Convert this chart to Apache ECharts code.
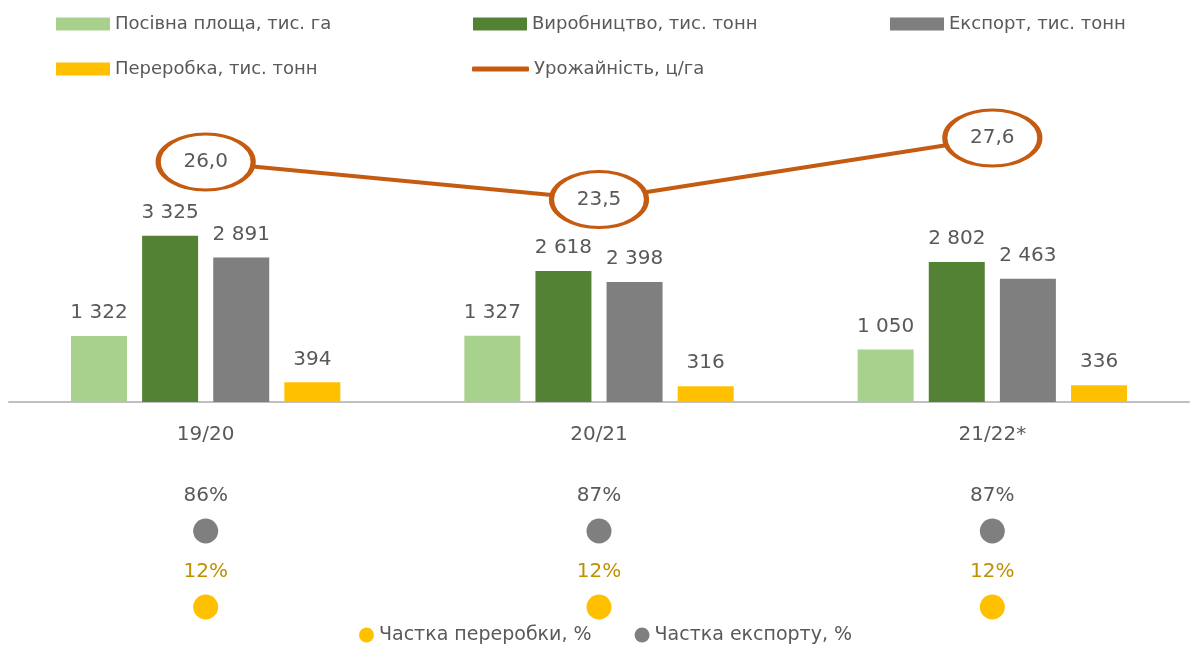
<!DOCTYPE html>
<html>
<head>
<meta charset="utf-8">
<script src="https://cdn.jsdelivr.net/npm/echarts@6/dist/echarts.min.js"></script>
<style>
  html, body { margin: 0; padding: 0; background: #fff; }
  #chart { width: 1190px; height: 648px; }
</style>
</head>
<body>
<div id="chart"></div>
<script>
// дані з графіка
const seasons = ['19/20', '20/21', '21/22*'];
const sownArea = [1322, 1327, 1050];      // тис. га
const production = [3325, 2618, 2802];    // тис. тонн
const exportVol = [2891, 2398, 2463];     // тис. тонн
const processing = [394, 316, 336];       // тис. тонн
const yieldVal = [26.0, 23.5, 27.6];      // ц/га
const exportShare = [86, 87, 87];         // %
const processingShare = [12, 12, 12];     // %
const shareRows = ['Частка переробки, %', 'Частка експорту, %'];

const FONT = 'DejaVu Sans';
const TEXT = '#595959';
const ORANGE = '#C55A11';

// "3325" -> "3 325"
const fmtThousands = (v) => String(v).replace(/\B(?=(\d{3})+(?!\d))/g, ' ');

const barLabel = {
  show: true,
  position: 'top',
  distance: 13,
  color: TEXT,
  fontFamily: FONT,
  fontSize: 20,
  formatter: (p) => fmtThousands(p.value),
};

function barSeries(name, data, color) {
  return {
    name: name,
    type: 'bar',
    data: data,
    barWidth: 56,
    barGap: '27%',
    itemStyle: { color: color },
    label: barLabel,
  };
}

const legendText = { color: TEXT, fontFamily: FONT, fontSize: 18, lineHeight: 20 };

const chart = echarts.init(document.getElementById('chart'));
chart.setOption({
  animation: false,
  backgroundColor: '#fff',
  textStyle: { fontFamily: FONT },
  legend: [
    {
      orient: 'vertical', left: 56, top: 14, itemGap: 25, padding: 0,
      itemWidth: 54, itemHeight: 13, icon: 'rect',
      textStyle: legendText,
      data: ['Посівна площа, тис. га', 'Переробка, тис. тонн'],
    },
    {
      left: 473, top: 14, padding: 0, itemWidth: 54, itemHeight: 13, icon: 'rect',
      textStyle: legendText,
      data: ['Виробництво, тис. тонн'],
    },
    {
      left: 472, top: 59, padding: 0, itemWidth: 57, itemHeight: 5,
      textStyle: legendText,
      data: [{
        name: 'Урожайність, ц/га',
        icon: 'roundRect',
        itemStyle: { color: ORANGE, borderColor: ORANGE, borderWidth: 0 },
      }],
    },
    {
      left: 890, top: 14, padding: 0, itemWidth: 54, itemHeight: 13, icon: 'rect',
      textStyle: legendText,
      data: ['Експорт, тис. тонн'],
    },
    {
      left: 359, top: 625, padding: 0, itemGap: 43, itemWidth: 15, itemHeight: 15, icon: 'circle',
      textStyle: { color: TEXT, fontFamily: FONT, fontSize: 19, lineHeight: 20 },
      data: shareRows,
    },
  ],
  grid: [
    { left: 9, right: 1, top: 102, bottom: 246 },
    { left: 9, right: 1, top: 493, bottom: 3 },
  ],
  xAxis: [
    {
      type: 'category', gridIndex: 0, data: seasons,
      axisLine: { lineStyle: { color: '#BFBFBF', width: 2 } },
      axisTick: { length: 7, lineStyle: { color: '#BFBFBF', width: 2 } },
      axisLabel: { color: TEXT, fontFamily: FONT, fontSize: 20, margin: 23 },
    },
    { type: 'category', gridIndex: 1, data: seasons, show: false },
  ],
  yAxis: [
    { type: 'value', gridIndex: 0, min: 0, max: 6000, show: false, splitLine: { show: false } },
    { type: 'value', gridIndex: 0, min: 10, max: 30, show: false, splitLine: { show: false } },
    { type: 'category', gridIndex: 1, data: shareRows, show: false },
  ],
  series: [
    barSeries('Посівна площа, тис. га', sownArea, '#A9D18E'),
    barSeries('Виробництво, тис. тонн', production, '#548235'),
    barSeries('Експорт, тис. тонн', exportVol, '#7F7F7F'),
    barSeries('Переробка, тис. тонн', processing, '#FFC000'),
    {
      name: 'Урожайність, ц/га',
      type: 'line',
      yAxisIndex: 1,
      data: yieldVal,
      symbol: 'circle',
      symbolSize: [95, 56],
      lineStyle: { color: ORANGE, width: 4 },
      itemStyle: { color: '#fff', borderColor: ORANGE, borderWidth: 4 },
      label: {
        show: true, position: 'inside', color: TEXT, fontFamily: FONT, fontSize: 20,
        formatter: (p) => p.value.toFixed(1).replace('.', ','),
      },
      z: 5,
    },
    {
      name: 'Частка переробки, %',
      type: 'scatter',
      xAxisIndex: 1, yAxisIndex: 2,
      symbolSize: 25,
      itemStyle: { color: '#FFC000', opacity: 1 },
      data: processingShare.map((v, i) => [seasons[i], shareRows[0], v]),
      label: {
        show: true, position: 'top', distance: 13, color: '#BF9000', fontFamily: FONT, fontSize: 20,
        formatter: (p) => p.value[2] + '%',
      },
    },
    {
      name: 'Частка експорту, %',
      type: 'scatter',
      xAxisIndex: 1, yAxisIndex: 2,
      symbolSize: 25,
      itemStyle: { color: '#7F7F7F', opacity: 1 },
      data: exportShare.map((v, i) => [seasons[i], shareRows[1], v]),
      label: {
        show: true, position: 'top', distance: 13, color: TEXT, fontFamily: FONT, fontSize: 20,
        formatter: (p) => p.value[2] + '%',
      },
    },
  ],
});
</script>
</body>
</html>
